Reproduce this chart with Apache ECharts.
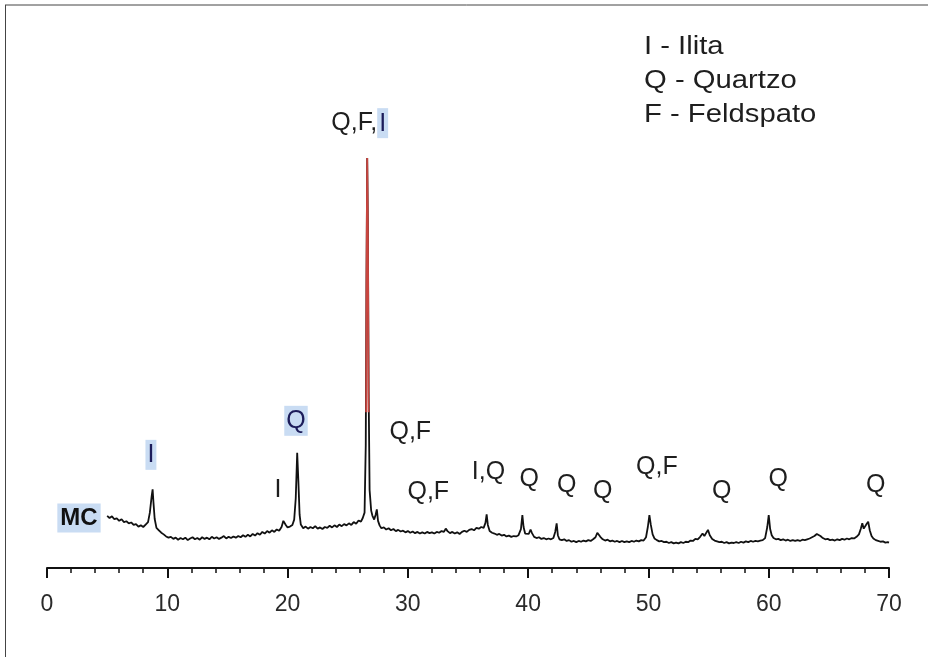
<!DOCTYPE html>
<html>
<head>
<meta charset="utf-8">
<script src="https://cdn.jsdelivr.net/npm/echarts@6/dist/echarts.min.js"></script>
<style>
html,body{margin:0;padding:0;background:#fff;}
#chart{width:928px;height:657px;}
</style>
</head>
<body>
<div id="chart"></div>
<script>
// 2θ (degrees) and intensity (arbitrary units)
var xrdPattern = [
[5.0,127],[5.2,122],[5.4,126],[5.6,119],[5.8,121],[6.0,115],[6.2,119],[6.4,112],[6.6,114],[6.8,109],
[7.0,111],[7.2,105],[7.4,107],[7.6,101],[7.8,104],[8.0,100],[8.2,106],[8.4,112],[8.55,135],[8.7,175],
[8.78,192],[8.85,160],[8.95,120],[9.1,98],[9.3,92],[9.5,86],[9.7,82],[9.9,77],[10.1,74],[10.3,76],
[10.5,71],[10.7,74],[10.9,69],[11.1,73],[11.3,70],[11.5,74],[11.7,68],[11.9,72],[12.1,75],[12.3,70],
[12.5,73],[12.7,69],[12.9,75],[13.1,71],[13.3,74],[13.5,70],[13.7,76],[13.9,72],[14.1,75],[14.3,71],
[14.5,74],[14.7,78],[14.9,72],[15.1,76],[15.3,73],[15.5,77],[15.7,74],[15.9,78],[16.1,75],[16.3,80],
[16.5,76],[16.7,81],[16.9,77],[17.1,83],[17.3,79],[17.5,85],[17.7,81],[17.9,88],[18.1,84],[18.3,90],
[18.5,86],[18.7,92],[18.9,88],[19.1,94],[19.3,91],[19.5,100],[19.65,115],[19.75,119],[19.85,105],[20.0,99],
[20.2,101],[20.4,105],[20.55,118],[20.68,170],[20.8,281],[20.9,210],[21.0,130],[21.1,106],[21.3,97],[21.5,101],
[21.7,96],[21.9,100],[22.1,97],[22.3,102],[22.5,96],[22.7,99],[22.9,95],[23.1,100],[23.3,98],[23.5,103],
[23.7,99],[23.9,104],[24.1,100],[24.3,106],[24.5,102],[24.7,107],[24.9,104],[25.1,109],[25.3,105],[25.5,112],
[25.7,108],[25.9,116],[26.1,113],[26.25,122],[26.4,135],[26.5,300],[26.56,700],[26.62,1000],[26.68,820],[26.74,430],
[26.82,190],[26.95,140],[27.05,128],[27.2,118],[27.32,130],[27.42,143],[27.52,115],[27.65,104],[27.8,97],[28.0,99],
[28.2,94],[28.4,97],[28.6,92],[28.8,95],[29.0,90],[29.2,93],[29.4,89],[29.6,91],[29.8,87],[30.0,90],
[30.2,86],[30.4,89],[30.6,85],[30.8,88],[31.0,84],[31.2,87],[31.4,84],[31.6,88],[31.8,85],[32.0,87],
[32.2,84],[32.4,88],[32.6,86],[32.8,90],[33.0,88],[33.15,96],[33.3,90],[33.5,85],[33.7,88],[33.9,84],
[34.1,87],[34.3,83],[34.5,88],[34.7,91],[34.9,88],[35.1,93],[35.3,95],[35.5,92],[35.7,98],[35.9,96],
[36.1,100],[36.3,98],[36.45,110],[36.55,131],[36.65,105],[36.8,90],[37.0,86],[37.2,84],[37.4,81],[37.6,83],
[37.8,79],[38.0,81],[38.2,77],[38.4,79],[38.6,76],[38.8,78],[39.0,77],[39.2,80],[39.4,95],[39.52,129],
[39.62,100],[39.75,84],[39.9,80],[40.05,83],[40.2,94],[40.32,85],[40.5,76],[40.7,73],[40.9,75],[41.1,71],
[41.3,73],[41.5,70],[41.7,72],[41.9,70],[42.1,73],[42.25,88],[42.37,109],[42.47,80],[42.6,70],[42.8,68],
[43.0,70],[43.2,66],[43.4,68],[43.6,64],[43.8,66],[44.0,63],[44.2,66],[44.4,64],[44.6,67],[44.8,65],
[45.0,68],[45.2,66],[45.4,70],[45.6,75],[45.75,86],[45.85,89],[46.0,76],[46.2,70],[46.4,67],[46.6,69],
[46.8,65],[47.0,67],[47.2,64],[47.4,66],[47.6,63],[47.8,66],[48.0,63],[48.2,65],[48.4,63],[48.6,66],
[48.8,64],[49.0,67],[49.2,65],[49.4,68],[49.6,67],[49.8,75],[49.95,100],[50.08,129],[50.2,105],[50.35,82],
[50.5,72],[50.7,68],[50.9,65],[51.1,66],[51.3,63],[51.5,64],[51.7,61],[51.9,63],[52.1,60],[52.3,62],
[52.5,60],[52.7,63],[52.9,61],[53.1,64],[53.3,63],[53.5,67],[53.7,66],[53.9,71],[54.1,70],[54.3,76],
[54.5,84],[54.65,78],[54.8,82],[54.95,93],[55.1,80],[55.3,71],[55.5,67],[55.7,65],[55.9,63],[56.1,64],
[56.3,61],[56.5,63],[56.7,60],[56.9,62],[57.1,61],[57.3,63],[57.5,61],[57.7,64],[57.9,62],[58.1,65],
[58.3,63],[58.5,66],[58.7,64],[58.9,66],[59.1,65],[59.3,67],[59.5,68],[59.7,73],[59.88,100],[60.0,129],
[60.12,95],[60.25,80],[60.4,73],[60.6,70],[60.8,71],[61.0,68],[61.2,70],[61.4,67],[61.6,69],[61.8,66],
[62.0,68],[62.2,66],[62.4,68],[62.6,66],[62.8,69],[63.0,68],[63.2,70],[63.4,72],[63.6,75],[63.8,78],
[64.0,83],[64.15,85],[64.3,78],[64.5,73],[64.7,70],[64.9,71],[65.1,68],[65.3,69],[65.5,67],[65.7,70],
[65.9,68],[66.1,71],[66.3,69],[66.5,72],[66.7,70],[66.9,73],[67.1,72],[67.3,76],[67.5,82],[67.65,95],
[67.78,109],[67.9,96],[68.02,100],[68.15,108],[68.27,113],[68.4,92],[68.55,78],[68.7,72],[68.9,68],[69.1,66],
[69.3,64],[69.5,65],[69.7,62],[69.9,63],[70.0,62]
];

// upper (red-highlighted) part of the main quartz peak
var mainPeakTop = [[26.532,380],[26.56,700],[26.62,1000],[26.68,820],[26.735,380]];

// Peak annotations (text, 2θ position, intensity position, style)
var labelText  = ['MC', 'I', 'I', 'Q', 'Q,F,|I', 'Q,F', 'Q,F', 'I,Q', 'Q', 'Q', 'Q', 'Q,F', 'Q', 'Q', 'Q'];
var labelTheta = [2.66, 8.64, 19.2, 20.7, 26.0, 30.2, 31.7, 36.7, 40.1, 43.2, 46.2, 50.7, 56.1, 60.8, 68.9];
var labelCount = [122, 276, 190, 359, 1085, 332, 185, 234, 217, 202, 188, 246, 188, 217, 202];
var labelStyle = ['mc', 'h', 'n', 'h', 'nh', 'n', 'n', 'n', 'n', 'n', 'n', 'n', 'n', 'n', 'n'];

var legendLines = ['I - Ilita', 'Q - Quartzo', 'F - Feldspato'];
var xTicks = [0, 10, 20, 30, 40, 50, 60, 70];

var FONT = '"Liberation Sans", Arial, sans-serif';
var richStyles = {
  n:  {fontFamily: FONT, fontSize: 25, color: '#1e1e1e'},
  h:  {fontFamily: FONT, fontSize: 25, color: '#1c1c5a', backgroundColor: '#c9dcf3', padding: [3, 2, 2, 2]},
  mc: {fontFamily: FONT, fontSize: 24, fontWeight: 'bold', color: '#111', backgroundColor: '#c9dcf3', padding: [3, 3, 2, 3]}
};

var labelData = labelText.map(function (t, i) {
  var s = labelStyle[i], txt;
  if (s === 'nh') {
    var parts = t.split('|');
    txt = '{n|' + parts[0] + '}{h|' + parts[1] + '}';
  } else {
    txt = '{' + s + '|' + t + '}';
  }
  return {value: [labelTheta[i], labelCount[i]], txt: txt};
});

var chart = echarts.init(document.getElementById('chart'), null, {renderer: 'canvas'});
chart.setOption({
  backgroundColor: '#ffffff',
  animation: false,
  grid: {left: 47, right: 39, top: 76, bottom: 89},
  xAxis: {
    type: 'value', min: xTicks[0], max: xTicks[xTicks.length - 1], interval: 10,
    axisLine: {show: true, onZero: false, lineStyle: {color: '#111', width: 2}},
    axisTick: {show: true, inside: false, length: 10, lineStyle: {color: '#111', width: 2}},
    minorTick: {show: true, splitNumber: 5, length: 5, lineStyle: {color: '#111', width: 1.5}},
    axisLabel: {fontFamily: FONT, fontSize: 23, color: '#2a2a2a', margin: 25},
    splitLine: {show: false}
  },
  yAxis: {type: 'value', min: 0, max: 1200, show: false},
  series: [
    {
      type: 'line', data: xrdPattern, showSymbol: false, symbol: 'none', silent: true,
      lineStyle: {width: 1.8, color: '#111'}, clip: false
    },
    {
      type: 'line', data: mainPeakTop, showSymbol: false, symbol: 'none', silent: true,
      lineStyle: {width: 1.8, color: '#c8453f'}, clip: false
    },
    {
      type: 'scatter', data: labelData, symbolSize: 1, silent: true, clip: false,
      itemStyle: {color: 'rgba(0,0,0,0)', opacity: 1},
      label: {
        show: true, position: 'inside', opacity: 1,
        formatter: function (p) { return p.data.txt; },
        rich: richStyles
      }
    }
  ],
  graphic: [
    {type: 'line', shape: {x1: 5, y1: 5, x2: 928, y2: 5}, style: {stroke: '#444', lineWidth: 1}},
    {type: 'line', shape: {x1: 5.5, y1: 5, x2: 5.5, y2: 657}, style: {stroke: '#444', lineWidth: 1}},
    {
      type: 'text', left: 644, top: 30, scaleX: 1.17,
      style: {text: legendLines.join('\n'), font: '25px ' + FONT, fill: '#1e1e1e', lineHeight: 34}
    }
  ]
});
</script>
</body>
</html>
